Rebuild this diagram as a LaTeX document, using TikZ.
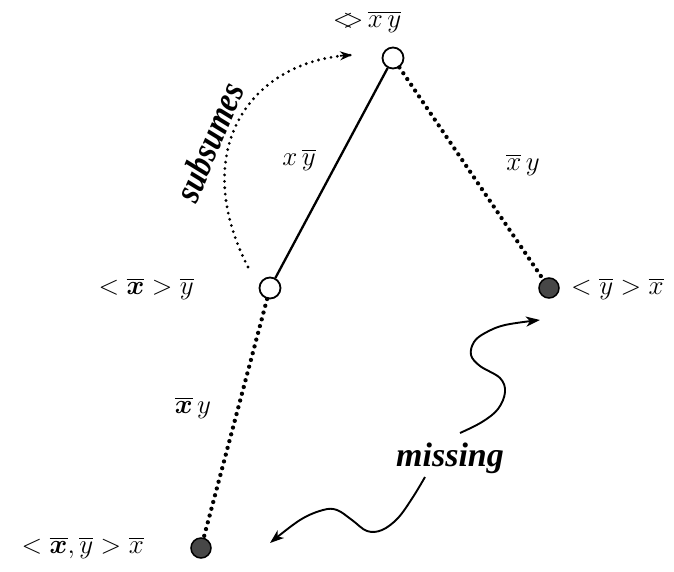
\RequirePackage{fix-cm}
\documentclass[tikz,border=0pt]{standalone}
\usepackage{amsmath}
\usepackage{fontspec}
\newfontfamily\lblfont{Liberation Serif}
\usetikzlibrary{arrows.meta}
\tikzset{
  opencirc/.style={circle,draw,line width=1.8pt,fill=white,minimum size=21pt,inner sep=0pt},
  filledcirc/.style={circle,draw,line width=1.5pt,fill=black!72,minimum size=20pt,inner sep=0pt},
  txt/.style={font=\fontsize{27}{30}\selectfont,inner sep=0pt},
  solidedge/.style={line width=2.3pt},
  dottededge/.style={line width=4.3pt,line cap=round,dash pattern=on 0pt off 7pt},
  subarc/.style={line width=3.1pt,line cap=round,dash pattern=on 0pt off 6.4pt},
  wavy/.style={line width=1.9pt,-{Stealth[length=14pt,width=10pt,inset=4pt]}},
  bigword/.style={font=\fontsize{34}{38}\lblfont\bfseries\itshape,inner sep=0pt}
}
\begin{document}
\begin{tikzpicture}[x=1pt,y=-1pt]
\useasboundingbox (0,0) rectangle (674,571);
% nodes
\node[opencirc] (top) at (393,58) {};
\node[opencirc] (mid) at (270,288) {};
\node[filledcirc] (right) at (549,288) {};
\node[filledcirc] (bot) at (201,548) {};
% edges
\draw[solidedge] (top) -- (mid);
\draw[dottededge] (top) -- (right);
\draw[dottededge] (mid) -- (bot);
% node labels
\node[txt] (ltop) at (367,22) {$\mathord{<}\mkern-7mu\mathord{>}\,\overline{x\,y}$};
\node[txt,anchor=east] (lmid) at (194,289) {$<\overline{\boldsymbol{x}}>\overline{y}$};
\node[txt,anchor=west] (lright) at (571,289) {$<\overline{y}>\overline{x}$};
\node[txt,anchor=east] (lbot) at (144,548) {$<\overline{\boldsymbol{x}},\overline{y}>\overline{x}$};
% edge labels
\node[txt] (e1) at (299,160) {$x\,\overline{y}$};
\node[txt] (e2) at (523,165) {$\overline{x}\,y$};
\node[txt] (e3) at (193,408) {$\overline{\boldsymbol{x}}\,y$};
% subsumes
\coordinate (s0) at (248,267);
\coordinate (s1) at (352,55);
\draw[subarc] (s0) .. controls (188,150) and (250,60) .. (s1);
\draw[line width=1.6pt,-{Stealth[length=12pt,width=9pt,inset=4pt]}] (340,55.8) -- (s1);
\node[bigword,rotate=67,font=\fontsize{37}{40}\lblfont\bfseries\itshape] (subs) at (209,142) {\scalebox{0.84}[1]{subsumes}};
% missing
\node[bigword] (miss) at (450,458) {missing};
\draw[wavy] plot[smooth,tension=0.6] coordinates {(460,433) (482,422) (498,409) (505,392) (500,378) (480,366) (471,355) (474,342) (485,333) (505,325) (540,320)};
\draw[wavy] plot[smooth,tension=0.6] coordinates {(425,477) (413,497) (398,518) (382,530) (367,531) (352,520) (337,510) (323,510) (300,520) (270,543)};
\end{tikzpicture}
\end{document}
